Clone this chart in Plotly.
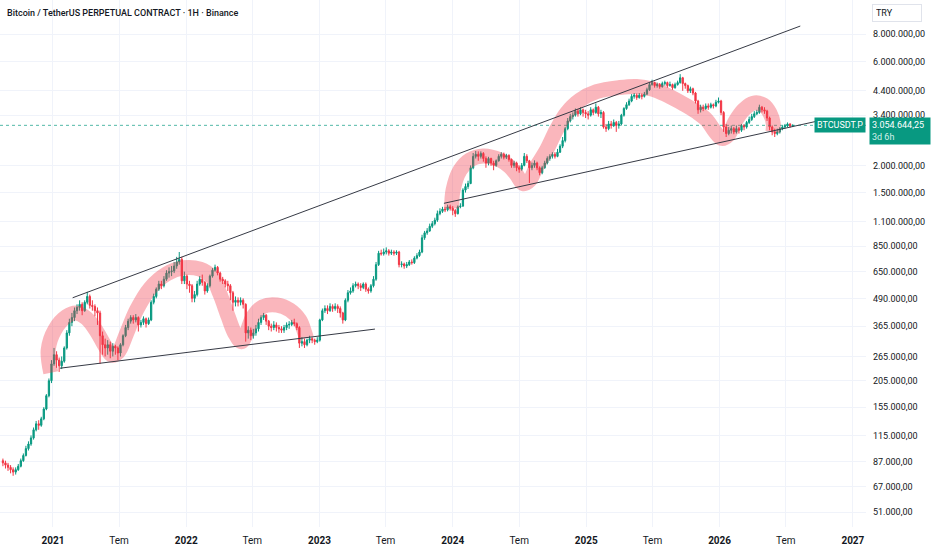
import math

import pandas as pd
import plotly.graph_objects as go

# weekly candles, values in thousands of TRY
first_week = "2020-08-17"
first_open = 88

close = [
    86, 84, 82, 80, 78, 80, 83, 88, 93, 100,
    105, 112, 122, 130, 128, 137, 152, 175, 205, 245,
    270, 255, 240, 252, 290, 340, 380, 400, 430, 445,
    460, 430, 470, 500, 455, 450, 430, 420, 330, 300,
    290, 300, 280, 295, 290, 275, 300, 330, 360, 385,
    400, 390, 400, 370, 380, 395, 375, 390, 470, 500,
    540, 570, 560, 600, 640, 650, 655, 690, 720, 740,
    590, 620, 570, 560, 490, 510, 570, 600, 580, 530,
    560, 620, 660, 680, 640, 600, 590, 570, 560, 520,
    470, 480, 470, 480, 460, 340, 350, 330, 340, 355,
    380, 400, 410, 385, 365, 360, 370, 360, 355, 350,
    360, 370, 372, 380, 375, 360, 305, 310, 300, 315,
    320, 315, 310, 315, 390, 430, 440, 430, 450, 440,
    450, 440, 420, 390, 480, 520, 530, 560, 570, 560,
    550, 570, 540, 530, 560, 600, 700, 790, 785, 800,
    810, 790, 800, 790, 800, 700, 705, 690, 700, 720,
    715, 750, 770, 800, 930, 980, 1000, 1050, 1080, 1120,
    1200, 1230, 1260, 1250, 1290, 1270, 1240, 1200, 1290, 1300,
    1540, 1600, 1650, 1950, 2200, 2250, 2200, 2270, 2150, 2050,
    2150, 2050, 2000, 2100, 2200, 2250, 2180, 2220, 2130, 2000,
    2050, 1950, 1920, 2000, 2200, 2100, 1950, 2000, 2050, 1950,
    1850, 1950, 2050, 2150, 2200, 2250, 2200, 2300, 2450, 2600,
    2950, 3200, 3350, 3400, 3550, 3450, 3600, 3500, 3450, 3400,
    3600, 3500, 3700, 3450, 3500, 3000, 2950, 3100, 3050, 3150,
    3050, 3100, 3400, 3650, 3800, 3950, 4150, 4200, 4100, 4200,
    4150, 4250, 4450, 4700, 4800, 4650, 4700, 4600, 4750, 4800,
    4650, 4700, 4550, 4700, 4800, 5050, 4750, 4650, 4400, 4500,
    4300, 3950, 3600, 3700, 3650, 3750, 3700, 3800, 3750, 3900,
    3950, 3500, 3000, 2800, 2900, 2950, 2850, 2950, 2900, 3050,
    3000, 3150, 3250, 3350, 3450, 3500, 3700, 3600, 3550, 3300,
    3000, 2850, 2800, 2850, 2950, 3000, 3050, 3100, 3030, 3054.64425,
]

high = [
    90, 88, 86, 84, 82, 82, 85, 90, 95, 103,
    108, 115, 125, 134, 135, 140, 155, 178, 210, 255,
    290, 280, 262, 265, 295, 350, 395, 420, 445, 460,
    480, 470, 480, 525, 510, 480, 460, 445, 430, 345,
    320, 315, 310, 305, 300, 295, 305, 335, 370, 395,
    410, 410, 415, 405, 390, 405, 400, 400, 480, 515,
    550, 590, 590, 620, 660, 680, 690, 720, 760, 800,
    760, 650, 630, 590, 570, 530, 590, 620, 630, 590,
    575, 630, 675, 700, 690, 650, 615, 600, 590, 570,
    530, 500, 495, 495, 490, 465, 365, 360, 355, 370,
    395, 410, 420, 415, 390, 375, 385, 380, 370, 365,
    370, 380, 385, 390, 395, 380, 365, 325, 320, 320,
    330, 325, 320, 325, 395, 440, 455, 455, 465, 460,
    465, 460, 450, 425, 490, 535, 550, 575, 585, 580,
    575, 580, 580, 550, 570, 620, 720, 810, 820, 830,
    840, 825, 820, 815, 815, 810, 725, 715, 720, 735,
    740, 765, 790, 820, 960, 1000, 1030, 1080, 1110, 1150,
    1240, 1270, 1290, 1290, 1320, 1320, 1300, 1260, 1310, 1340,
    1570, 1650, 1700, 2000, 2280, 2330, 2320, 2320, 2300, 2200,
    2190, 2170, 2100, 2130, 2250, 2300, 2290, 2260, 2250, 2150,
    2100, 2080, 2000, 2050, 2280, 2250, 2120, 2060, 2110, 2080,
    1980, 1990, 2100, 2200, 2250, 2300, 2300, 2380, 2500, 2700,
    3000, 3300, 3450, 3500, 3650, 3620, 3700, 3650, 3600, 3550,
    3700, 3650, 3850, 3750, 3600, 3550, 3100, 3200, 3200, 3250,
    3200, 3200, 3450, 3700, 3900, 4050, 4250, 4300, 4280, 4300,
    4280, 4350, 4550, 4800, 4950, 4850, 4800, 4780, 4850, 4900,
    4850, 4850, 4750, 4800, 4900, 5250, 5100, 4800, 4700, 4600,
    4550, 4350, 4000, 3800, 3800, 3850, 3850, 3880, 3850, 4000,
    4100, 4000, 3550, 3100, 3000, 3050, 3000, 3050, 3000, 3100,
    3100, 3200, 3350, 3450, 3550, 3600, 3800, 3750, 3700, 3600,
    3350, 3050, 2950, 2950, 3000, 3050, 3100, 3150, 3120, 3080,
]

low = [
    83, 81, 79, 77, 75, 76, 79, 82, 87, 92,
    98, 103, 110, 120, 122, 126, 135, 150, 172, 200,
    240, 235, 225, 232, 248, 285, 330, 365, 385, 415,
    430, 410, 425, 460, 440, 430, 405, 370, 245, 270,
    265, 270, 260, 265, 270, 255, 265, 295, 325, 350,
    375, 375, 380, 345, 360, 370, 360, 370, 385, 460,
    490, 530, 540, 550, 590, 610, 620, 640, 670, 700,
    570, 570, 540, 520, 470, 470, 500, 560, 560, 510,
    520, 550, 610, 650, 625, 585, 570, 550, 530, 480,
    430, 450, 450, 455, 440, 310, 320, 315, 320, 330,
    345, 370, 390, 370, 350, 345, 350, 345, 340, 340,
    340, 350, 355, 365, 365, 350, 290, 295, 290, 295,
    305, 305, 300, 305, 310, 385, 420, 415, 425, 425,
    430, 420, 400, 375, 385, 470, 510, 520, 550, 540,
    530, 540, 525, 515, 520, 550, 590, 690, 770, 770,
    780, 770, 775, 770, 775, 680, 680, 670, 675, 690,
    700, 705, 740, 760, 790, 910, 960, 990, 1030, 1060,
    1100, 1180, 1210, 1220, 1230, 1240, 1180, 1160, 1190, 1270,
    1290, 1500, 1560, 1640, 1920, 2150, 2100, 2150, 2080, 1950,
    2000, 1990, 1900, 1970, 2080, 2150, 2130, 2140, 2080, 1950,
    1950, 1880, 1850, 1890, 1980, 2050, 1660, 1900, 1950, 1900,
    1800, 1820, 1930, 2020, 2100, 2150, 2150, 2180, 2280, 2400,
    2550, 2900, 3150, 3250, 3350, 3350, 3400, 3350, 3300, 3250,
    3350, 3400, 3450, 3350, 3300, 2950, 2850, 2900, 2950, 3000,
    2850, 2950, 3050, 3350, 3600, 3750, 3900, 4050, 4000, 4050,
    4020, 4100, 4200, 4400, 4650, 4550, 4550, 4500, 4550, 4650,
    4550, 4600, 4450, 4500, 4650, 4750, 4400, 4500, 4300, 4300,
    4200, 3850, 3450, 3500, 3550, 3600, 3600, 3650, 3650, 3700,
    3850, 3400, 2850, 2700, 2750, 2800, 2780, 2800, 2800, 2850,
    2900, 2950, 3100, 3200, 3300, 3400, 3450, 3500, 3450, 3200,
    2900, 2750, 2700, 2750, 2800, 2900, 2950, 3000, 2980, 3000,
]

# hand drawn pink brush strokes (date, thousands TRY)
wave1_dates = ["2020-12-26", "2020-12-19", "2021-01-06", "2021-02-07", "2021-03-07",
               "2021-04-03", "2021-05-01", "2021-05-23", "2021-06-11", "2021-06-29",
               "2021-07-22", "2021-08-18", "2021-09-24", "2021-11-08", "2021-12-24",
               "2022-02-08", "2022-03-12", "2022-04-03", "2022-04-26", "2022-05-14",
               "2022-06-01", "2022-06-15", "2022-07-03", "2022-07-30", "2022-09-06",
               "2022-10-12", "2022-11-08", "2022-11-22", "2022-11-26"]
wave1_prices = [223, 284, 351, 404, 419, 397, 345, 297, 269, 278,
                339, 433, 545, 634, 677, 667, 615, 515, 404, 339,
                310, 339, 404, 449, 457, 433, 389, 339, 322]

wave2_dates = ["2023-12-29", "2024-01-02", "2024-01-21", "2024-02-17", "2024-03-24",
               "2024-05-09", "2024-06-05", "2024-06-24", "2024-07-12", "2024-07-30",
               "2024-08-17", "2024-09-14", "2024-10-11", "2024-11-07", "2024-12-14",
               "2025-01-29", "2025-04-03", "2025-05-19", "2025-06-30", "2025-08-09",
               "2025-09-24", "2025-10-30", "2025-11-27", "2025-12-20", "2026-01-07",
               "2026-01-25", "2026-02-12", "2026-03-07", "2026-04-03", "2026-05-01",
               "2026-05-19", "2026-05-28", "2026-05-27"]
wave2_prices = [1270, 1540, 1900, 2120, 2210, 2120, 1970, 1810, 1650, 1710,
                1970, 2350, 2910, 3470, 3990, 4360, 4560, 4610, 4490, 4210,
                3830, 3520, 3230, 2850, 2660, 2760, 3170, 3590, 3860, 3790,
                3470, 3110, 2850]

# trendlines (date, thousands TRY)
upper_dates = ["2021-02-24", "2026-08-10"]
upper_prices = [493, 8730]
lower1_dates = ["2021-01-20", "2023-06-02"]
lower1_prices = [234, 354]
lower2_dates = ["2023-12-08", "2026-10-22"]
lower2_prices = [1339, 3266]

y_ticks = [51000, 67000, 87000, 115000, 155000, 205000, 265000, 365000, 490000,
           650000, 850000, 1100000, 1500000, 2000000, 3400000, 4400000, 6000000, 8000000]
x_ticks = ["2021-01-01", "2021-07-01", "2022-01-01", "2022-07-01", "2023-01-01",
           "2023-07-01", "2024-01-01", "2024-07-01", "2025-01-01", "2025-07-01",
           "2026-01-01", "2026-07-01", "2027-01-01"]
x_labels = ["<b>2021</b>", "Tem", "<b>2022</b>", "Tem", "<b>2023</b>", "Tem", "<b>2024</b>",
            "Tem", "<b>2025</b>", "Tem", "<b>2026</b>", "Tem", "<b>2027</b>"]

x_range = ["2020-08-09", "2027-02-06"]
y_range = [4.6399, 7.0607]

UP = "#089981"
DOWN = "#F23645"
TEXT = "#131722"
GRID = "#f0f3fa"
FONT = "Roboto"


def k(values):
    return [v * 1000 for v in values]


def tr_number(v):
    s = f"{v:,.2f}"
    return s.replace(",", "X").replace(".", ",").replace("X", ".")


weeks = pd.date_range(first_week, periods=len(close), freq="7D")
opens = [first_open] + close[:-1]
last = close[-1] * 1000

fig = go.Figure()

fig.add_trace(go.Candlestick(x=weeks, open=k(opens), high=k(high), low=k(low), close=k(close),
                             increasing=dict(line=dict(color=UP, width=1), fillcolor=UP),
                             decreasing=dict(line=dict(color=DOWN, width=1), fillcolor=DOWN),
                             whiskerwidth=0, hoverinfo="skip", showlegend=False))

# last price line
fig.add_trace(go.Scatter(x=x_range, y=[last, last], mode="lines",
                         line=dict(color="rgba(8,153,129,0.7)", width=1, dash="dot"),
                         hoverinfo="skip", showlegend=False))

for d, p in [(wave1_dates, wave1_prices), (wave2_dates, wave2_prices)]:
    fig.add_trace(go.Scatter(x=d, y=k(p), mode="lines",
                             line=dict(color="rgba(242,54,69,0.36)", width=15,
                                       shape="spline", smoothing=1.0),
                             hoverinfo="skip", showlegend=False))

for d, p in [(upper_dates, upper_prices), (lower1_dates, lower1_prices), (lower2_dates, lower2_prices)]:
    fig.add_trace(go.Scatter(x=d, y=k(p), mode="lines",
                             line=dict(color="#363a45", width=1),
                             hoverinfo="skip", showlegend=False))

fig.update_layout(
    width=932, height=550,
    margin=dict(l=0, r=66, t=0, b=23),
    paper_bgcolor="white", plot_bgcolor="white",
    font=dict(family=FONT, size=9, color=TEXT),
    hovermode=False,
    xaxis=dict(type="date", range=x_range, tickvals=x_ticks, ticktext=x_labels,
               showgrid=True, gridcolor=GRID, gridwidth=1, zeroline=False, showline=False,
               ticks="", ticklabelstandoff=6, tickfont=dict(size=10, color=TEXT),
               rangeslider=dict(visible=False), fixedrange=True, automargin=False),
    yaxis=dict(type="log", side="right", range=y_range, tickvals=y_ticks,
               ticktext=[tr_number(v) for v in y_ticks],
               showgrid=True, gridcolor=GRID, gridwidth=1, zeroline=False, showline=False,
               ticks="", ticklabelstandoff=6, tickfont=dict(size=9, color=TEXT),
               fixedrange=True, automargin=False),
    annotations=[
        dict(text="Bitcoin / TetherUS PERPETUAL CONTRACT · 1H · Binance", xref="paper", yref="paper",
             x=0, y=1, xanchor="left", yanchor="middle", xshift=5, yshift=-13, showarrow=False,
             font=dict(size=9, color=TEXT, family=FONT, weight=500)),
        dict(text="TRY", xref="paper", yref="paper", x=1, y=1, xanchor="left", yanchor="top",
             xshift=6, yshift=-4, showarrow=False, bgcolor="white", bordercolor="#e0e3eb",
             borderwidth=1, borderpad=3, width=42, align="left",
             font=dict(size=9, color=TEXT, family=FONT)),
        dict(text="BTCUSDT.P", xref="paper", yref="y", x=1, y=math.log10(last),
             xanchor="right", yanchor="middle", showarrow=False, bgcolor=UP, borderpad=2,
             font=dict(size=9, color="white", family=FONT)),
        dict(text=tr_number(last) + "<br><span style='color:#d2f0ea'>3d 6h</span>",
             xref="paper", yref="y", x=1, y=math.log10(last), xanchor="left", yanchor="top",
             xshift=3, yshift=8, showarrow=False, bgcolor=UP, borderpad=2, align="left",
             width=56, font=dict(size=9, color="white", family=FONT)),
    ],
)

fig.write_html("out.html", config={"displayModeBar": False},
               post_script="document.body.style.margin='0px';")
